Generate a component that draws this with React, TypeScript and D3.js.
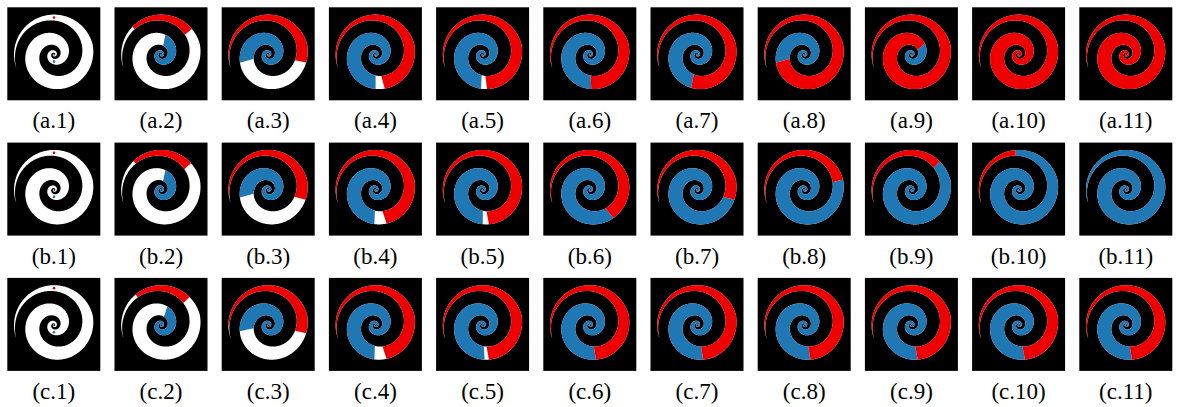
import * as d3 from "d3";

const W = 1177;
const H = 407;

// panel grid
const rowIds = ["a", "b", "c"];
const stepIds = d3.range(1, 12);

// spiral geometry: white inner edge radius every quarter turn, from the outer tip inwards
const tauKnots = d3.range(0, 1261, 90);
const innerEdge = [40, 35.5, 30, 23, 15.5, 10.5, 7, 4.6, 3.0, 2.0, 1.3, 0.85, 0.55, 0.35, 0.2];
const TIP_ANGLE = 160; // screen degrees, where the outer arm tapers off
const BAND_LAG = 185; // outer edge = inner edge this many degrees further out
const DISK_R = 40;
const TAU_END = 1260;

// seeds (position along spiral)
const redSeedTau = 110;
const blueSeedTau = 650;

// red region [from, to] along the spiral, per step (null = seeds only)
const redA = [null, [64, 160], [15, 212], [8, 275], [0, 283], [0, 288], [0, 300], [0, 364], [0, 520], [0, 1300], [0, 1300]];
const redB = [null, [66, 158], [12, 215], [5, 272], [0, 280], [0, 250], [0, 215], [0, 185], [0, 155], [0, 105], null];
const redC = [null, [70, 155], [20, 212], [8, 272], [2, 280], [0, 280], [0, 280], [0, 280], [0, 280], [0, 280], [0, 280]];

// blue region starts here and runs to the centre
const blueA = [null, 482, 364, 290, 293, 288, 300, 364, 520, null, null];
const blueB = [null, 482, 365, 292, 290, 250, 215, 185, 155, 105, 0];
const blueC = [null, 488, 368, 292, 287, 280, 280, 280, 280, 280, 280];

const redRows = [redA, redB, redC];
const blueRows = [blueA, blueB, blueC];

const RED = "#ee0000";
const BLUE = "#1f77b4";

const logInner = d3.interpolateBasis(innerEdge.map(Math.log));
const tauScale = d3.scaleLinear().domain([tauKnots[0], tauKnots[tauKnots.length - 1]]).range([0, 1]).clamp(true);
const rIn = (t: number) => (t < 0 ? DISK_R + 20 : Math.exp(logInner(tauScale(t))));
const rOut = (t: number) => rIn(t - BAND_LAG);

const band = d3
  .areaRadial<number>()
  .angle((t) => ((TIP_ANGLE + t + 90) * Math.PI) / 180)
  .innerRadius((t) => Math.min(DISK_R, rIn(t)))
  .outerRadius((t) => Math.min(DISK_R, rOut(t)));

const segment = (a: number, b: number) => band(d3.range(a, b, 1).concat([b])) || "";

const xScale = d3.scaleLinear().domain([1, 11]).range([7.3, 7.3 + 10 * 107.2]);
const yScale = d3.scalePoint<string>().domain(rowIds).range([7.3, 277.9]);
const SIZE = 93;

const polar = (t: number, r: number) => {
  const a = ((TIP_ANGLE + t) * Math.PI) / 180;
  return [r * Math.cos(a), r * Math.sin(a)];
};

function Panel({ row, ri, step }: { row: string; ri: number; step: number }) {
  const x = xScale(step);
  const y = yScale(row)!;
  const red = redRows[ri][step - 1];
  const blue = blueRows[ri][step - 1];
  const [rx, ry] = polar(redSeedTau, (rIn(redSeedTau) + DISK_R) / 2);
  const [bx, by] = polar(blueSeedTau, (rIn(blueSeedTau) + rOut(blueSeedTau)) / 2);
  return (
    <g>
      <rect x={x} y={y} width={SIZE} height={SIZE} fill="#000" />
      <g transform={`translate(${x + 46.7},${y + 47.3})`}>
        <path d={segment(-20, TAU_END)} fill="#fff" />
        {blue !== null && <path d={segment(blue, TAU_END)} fill={BLUE} />}
        {red && <path d={segment(red[0], Math.min(red[1], TAU_END))} fill={RED} />}
        {step === 1 && (
          <>
            <circle cx={rx} cy={ry} r={1.3} fill={RED} />
            <circle cx={bx} cy={by} r={1.3} fill={BLUE} />
          </>
        )}
      </g>
      <text
        x={x + SIZE / 2}
        y={y + 121.1}
        textAnchor="middle"
        fontFamily="'Liberation Serif', serif"
        fontSize={23}
        fill="#000"
      >
        ({row}.{step})
      </text>
    </g>
  );
}

export default function App() {
  return (
    <svg
      width={W}
      height={H}
      style={{ position: "absolute", left: 0, top: 0, background: "#fff" }}
    >
      {rowIds.map((row, ri) =>
        stepIds.map((step) => <Panel key={row + step} row={row} ri={ri} step={step} />)
      )}
    </svg>
  );
}
